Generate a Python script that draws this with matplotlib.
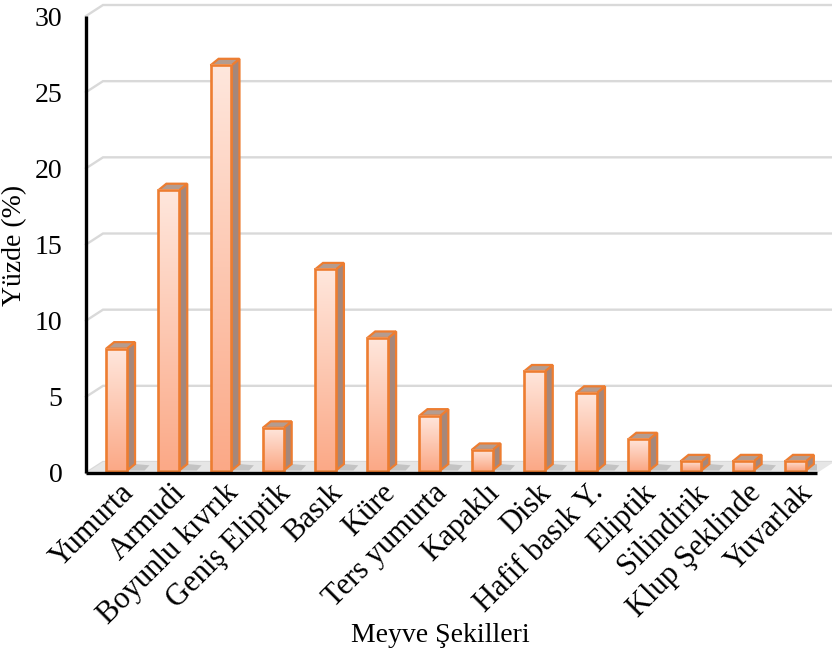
import numpy as np
import matplotlib
matplotlib.use("Agg")
import matplotlib.pyplot as plt
from matplotlib.patches import Polygon, Rectangle
from matplotlib.colors import to_rgb

plt.rcParams['font.family'] = ['Liberation Serif', 'DejaVu Serif']

# Fruit shape categories and their share (%)
categories = ["Yumurta", "Armudi", "Boyunlu kıvrık", "Geniş Eliptik", "Basık", "Küre",
              "Ters yumurta", "Kapaklı", "Disk", "Hafif basık Y.", "Eliptik",
              "Silindirik", "Klup Şeklinde", "Yuvarlak"]
values = [8.0, 18.4, 26.6, 2.8, 13.2, 8.7, 3.6, 1.35, 6.5, 5.1, 2.05, 0.6, 0.6, 0.6]
yticks = [0, 5, 10, 15, 20, 25, 30]

W, H = 832, 654
fig = plt.figure(figsize=(W / 100, H / 100), dpi=100)
ax = fig.add_axes([86 / W, (H - 473) / H, 731 / W, (473 - 16) / H])
xmin, xmax = -0.5, len(categories) - 0.5
ax.set_xlim(xmin, xmax)
ax.set_ylim(0, 30)

# pixel -> data unit conversion for the pseudo-3D offsets
bb = ax.get_position()
sx = bb.width * W / (xmax - xmin)
sy = bb.height * H / 30.0


def off(px, py):
    return px / sx, py / sy


BX, BY = off(17, 11)     # back wall
PX, PY = off(4.5, 2.5)   # plane of the bars
DX, DY = off(8, 6.5)     # bar depth
hw = 0.2

grid_c = "#d9d9d9"
# back wall gridlines with their diagonal on the side wall
for v in yticks:
    ax.plot([xmin, xmin + BX, xmax + 2 * BX], [v, v + BY, v + BY], color=grid_c,
            lw=1.7, clip_on=False, zorder=1, solid_joinstyle='miter')

# floor
ax.add_patch(Polygon([(xmin, 0), (xmax, 0), (xmax + BX, BY), (xmin + BX, BY)],
                     closed=True, fc="#e6e6e6", ec="none", zorder=2, clip_on=False))

edge = "#ed7d31"
c_bot = np.array(to_rgb("#fba987"))
c_top = np.array(to_rgb("#ffe7dd"))
t = np.linspace(0, 1, 128)[:, None]
grad = (c_bot[None, :] * (1 - t) + c_top[None, :] * t)[:, None, :]

for i, v in enumerate(values):
    x0 = i - hw + PX
    x1 = i + hw + PX
    yb = PY
    yt = v + PY
    # soft shadow on the floor
    ax.add_patch(Polygon([(x1, yb), (x1 + 2.2 * DX, yb), (x1 + 2.8 * DX, yb + 0.8 * DY),
                          (x1 + DX, yb + DY)], closed=True, fc="#b5b5b5", ec="none",
                         alpha=0.7, zorder=3))
    # side face
    ax.add_patch(Polygon([(x1, yb), (x1 + DX, yb + DY), (x1 + DX, yt + DY), (x1, yt)],
                         closed=True, fc="#a5877b", ec=edge, lw=1.6, zorder=4,
                         joinstyle='miter'))
    # top face
    ax.add_patch(Polygon([(x0, yt), (x1, yt), (x1 + DX, yt + DY), (x0 + DX, yt + DY)],
                         closed=True, fc="#b49c90", ec=edge, lw=1.6, zorder=4,
                         joinstyle='miter'))
    # front face with vertical gradient
    ax.imshow(grad, extent=(x0, x1, yb, yt), origin='lower', aspect='auto',
              interpolation='bilinear', zorder=5)
    ax.add_patch(Rectangle((x0, yb), x1 - x0, yt - yb, fill=False, ec=edge, lw=1.9,
                           zorder=6, joinstyle='miter'))

ax.set_xlim(xmin, xmax)
ax.set_ylim(0, 30)

# axis lines
ax.plot([xmin, xmin], [0, 30], color="black", lw=2.4, solid_capstyle='butt',
        clip_on=False, zorder=10)
ax.plot([xmin, xmax], [0, 0], color="black", lw=2.4, solid_capstyle='butt',
        clip_on=False, zorder=10)

for s in ax.spines.values():
    s.set_visible(False)

ax.set_yticks(yticks)
ax.set_yticklabels([str(v) for v in yticks])
ax.tick_params(axis='y', length=0, pad=17, labelsize=20)

lab_dx = off(7, 0)[0]
ax.set_xticks(np.arange(len(categories)) + lab_dx)
ax.set_xticklabels(categories, rotation=45, ha='right', va='top', rotation_mode='anchor')
ax.tick_params(axis='x', length=0, pad=4, labelsize=22)

fig.text(15 / W, 1 - 245 / H, "Yüzde (%)", rotation=90, ha='center', va='center', fontsize=20)
fig.text(440 / W, 1 - 635 / H, "Meyve Şekilleri", ha='center', va='center', fontsize=20)

fig.savefig("out.png", dpi=100)
